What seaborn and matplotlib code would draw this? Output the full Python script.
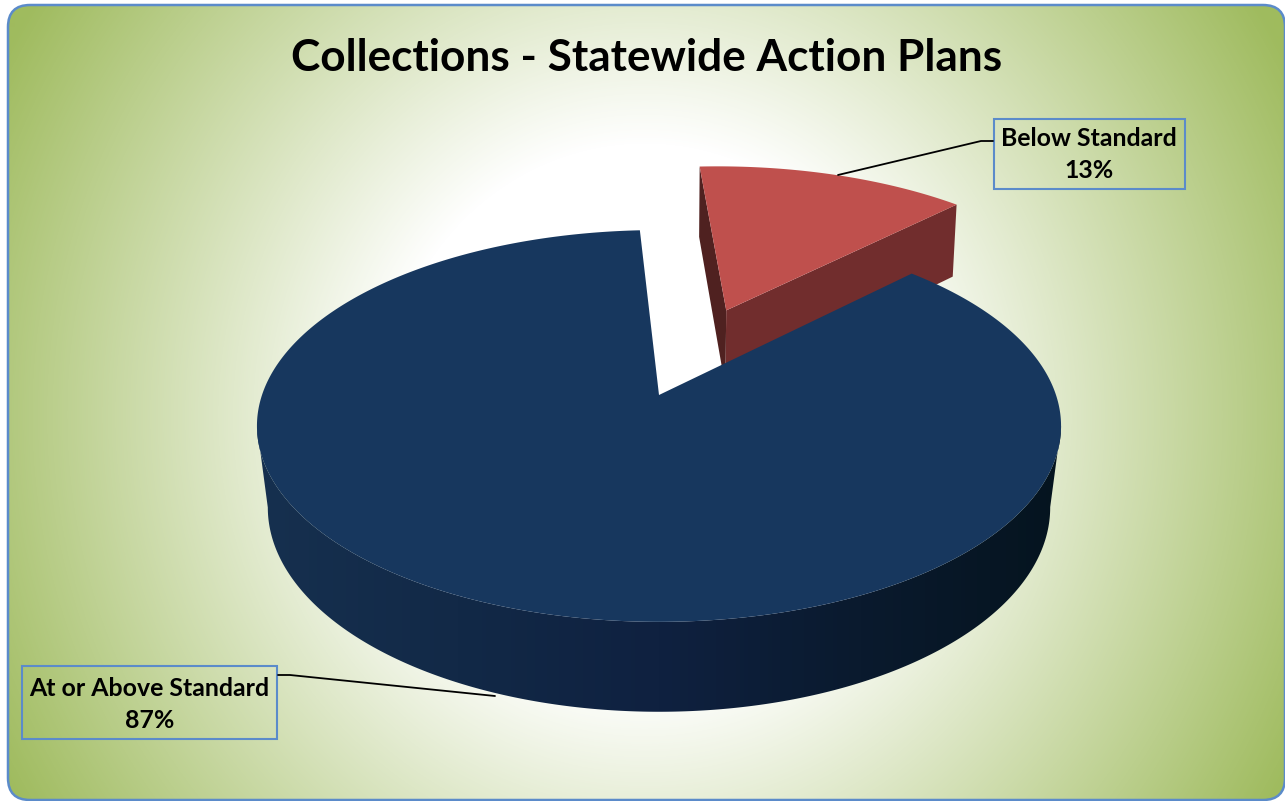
import numpy as np
import matplotlib
matplotlib.use("Agg")
import matplotlib.pyplot as plt
from matplotlib.patches import FancyBboxPatch, Polygon, Rectangle
import seaborn as sns

sns.set_theme(style="white")
plt.rcParams["font.family"] = ["Lato", "DejaVu Sans"]

TITLE = "Collections - Statewide Action Plans"
categories = ["At or Above Standard", "Below Standard"]
shares = [86.6, 13.4]

NAVY = "#17375e"
RED = "#bf504d"
RED_WALL = "#712d2d"
RED_SIDE = "#4f2120"
EDGE = "#5b8bca"

# projection of the tilted pie, in reference pixels
CX, CY = 659.0, 395.0
SX, SY = 397.0, 191.0
PERSP = 0.158
START = -3.2
EXPLODE = 0.51


def project(x, y):
    w = 1 + PERSP * y
    return CX + SX * x / w, CY - SY * y / w


def drop(px, py, pull=0.973):
    # bottom face of the disc: pulled in a little and pushed down
    return CX + (px - CX) * pull, py + 72 + (py - 205) * 0.043


def wedge(a0, a1, dx=0.0, dy=0.0, n=300):
    t = np.radians(np.linspace(a0, a1, n))
    return project(np.sin(t) + dx, np.cos(t) + dy)


fig, ax = plt.subplots(figsize=(12.85, 8.01), dpi=100)
fig.subplots_adjust(0, 0, 1, 1)
ax.axis("off")

# background panel
frame = FancyBboxPatch((8, 5), 1277, 795, boxstyle="round,pad=0,rounding_size=22",
                       facecolor="none", edgecolor=EDGE, linewidth=1.8, zorder=2)
ax.add_patch(frame)
gx, gy = np.meshgrid(np.arange(1286), np.arange(802))
dist = np.hypot((gx - 645) * 1.04, gy - 415)
bg_cmap = sns.blend_palette(["#ffffff", "#9fbb5e"], as_cmap=True)
bg = ax.imshow(np.clip((dist - 270) / 490, 0, 1), cmap=bg_cmap, vmin=0, vmax=1,
               extent=(0, 1285, 801, 0), aspect="auto", zorder=1)
bg.set_clip_path(frame)

sweep = [s / sum(shares) * 360 for s in shares]
red_a0, red_a1 = START, START + sweep[1]
mid = np.radians((red_a0 + red_a1) / 2)
dx, dy = EXPLODE * np.sin(mid), EXPLODE * np.cos(mid)

# exploded slice
tip_x, tip_y = project(dx, dy)
rx, ry = wedge(red_a0, red_a1, dx, dy)
lb = drop(rx[0], ry[0], 0.987)
rb = drop(rx[-1], ry[-1], 0.987)
tb = drop(tip_x, tip_y, 0.987)
ax.fill([rx[0], tip_x, tb[0], lb[0]], [ry[0], tip_y, tb[1], lb[1]], color=RED_SIDE, lw=0, zorder=3)
ax.fill([tip_x, rx[-1], rb[0], tb[0]], [tip_y, ry[-1], rb[1], tb[1]], color=RED_WALL, lw=0, zorder=3)
ax.fill(np.r_[tip_x, rx], np.r_[tip_y, ry], color=RED, lw=0, zorder=4)

# main slice: wall shaded left to right, then the top
nx, ny = wedge(red_a0, red_a0 - sweep[0], n=700)
bx, by = drop(nx, ny)
left, right = np.argmin(nx), np.argmax(nx)
wall_cmap = sns.blend_palette(["#16304f", "#122947", "#0f2140", "#0a1a2e", "#05141f"], as_cmap=True)
wall = ax.imshow(np.linspace(0, 1, 200).reshape(1, -1), cmap=wall_cmap,
                 extent=(257, 1062, 730, 400), aspect="auto", zorder=5)
wall_shape = Polygon(np.c_[np.r_[nx[left:right + 1], bx[left:right + 1][::-1]],
                           np.r_[ny[left:right + 1], by[left:right + 1][::-1]]],
                     closed=True, facecolor="none", edgecolor="none", transform=ax.transData)
ax.add_patch(wall_shape)
wall.set_clip_path(wall_shape)
ax.fill(np.r_[CX, nx], np.r_[CY, ny], color=NAVY, lw=0, zorder=6)

ax.set_xlim(0, 1285)
ax.set_ylim(801, 0)

# title and labels
ax.text(647, 58, TITLE, ha="center", va="center", fontsize=31.8, fontweight="bold",
        color="black", zorder=8)

boxes = {"Below Standard": (993.5, 118.5, 191.5, 70.5), "At or Above Standard": (22, 666, 255, 73)}
rows = {"Below Standard": (139, 171), "At or Above Standard": (689, 720)}
leaders = {"Below Standard": ([838, 981, 993], [175, 141, 141]),
           "At or Above Standard": ([278, 290, 495], [675, 675, 696])}
for name, value in zip(categories, shares):
    x, y, w, h = boxes[name]
    ax.add_patch(Rectangle((x, y), w, h, facecolor="none", edgecolor=EDGE, linewidth=1.5, zorder=8))
    ax.plot(*leaders[name], color="black", lw=1.3, zorder=8)
    ax.text(x + w / 2, rows[name][0], name, ha="center", va="center", fontsize=17.9,
            fontweight="bold", color="black", zorder=8)
    ax.text(x + w / 2, rows[name][1], f"{value:.0f}%", ha="center", va="center", fontsize=17.9,
            fontweight="bold", color="black", zorder=8)

fig.savefig("out.png", dpi=100)
